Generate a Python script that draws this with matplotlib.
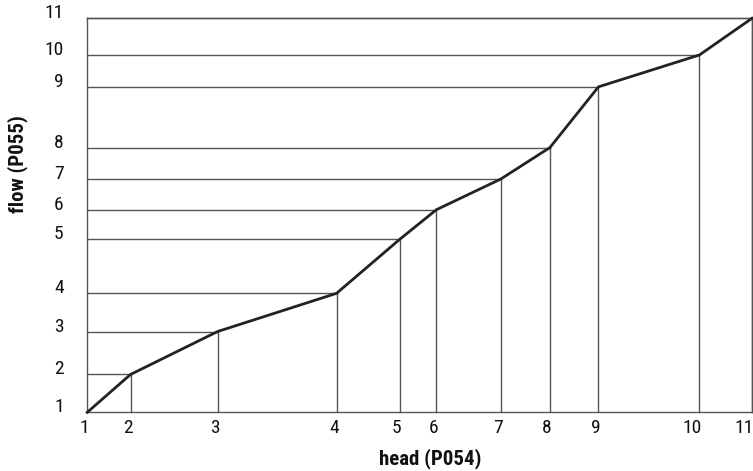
import matplotlib.pyplot as plt
import matplotlib.transforms as mtransforms
from matplotlib import font_manager

# Curve points (percent of full scale)
labels = ["1", "2", "3", "4", "5", "6", "7", "8", "9", "10", "11"]
head = [0, 6.5, 19.6, 37.5, 47.0, 52.5, 62.2, 69.6, 76.9, 92.1, 100]
flow = [0, 9.6, 20.5, 30.2, 43.9, 51.4, 59.2, 67.2, 82.6, 90.7, 100]

# pick a condensed face close to the original
names = {f.name for f in font_manager.fontManager.ttflist}
fam = "DejaVu Sans"
for cand in ["Roboto Condensed", "Barlow Condensed", "Archivo Narrow"]:
    if cand in names:
        fam = cand
        break
plt.rcParams["font.family"] = [fam, "DejaVu Sans"]

fig = plt.figure(figsize=(7.53, 4.71), dpi=100)
W, H = 753, 471
ax = fig.add_axes([87.3 / W, (H - 412.3) / H, (752 - 87.3) / W, 394 / H])
ax.set_xlim(0, 100)
ax.set_ylim(0, 100)

grid_c = "#555555"
for x, y in zip(head[1:], flow[1:]):
    ax.plot([0, x], [y, y], color=grid_c, lw=1.0, zorder=1, clip_on=False)
    ax.plot([x, x], [0, y], color=grid_c, lw=1.0, zorder=1, clip_on=False)

ax.plot(head, flow, color="#222222", lw=2.0, zorder=3, clip_on=False,
        solid_joinstyle="miter")

for s in ax.spines.values():
    s.set_color(grid_c)
    s.set_linewidth(1.0)

ax.set_xticks(head)
ax.set_xticklabels(labels)
ax.set_yticks(flow)
ax.set_yticklabels(labels)
ax.tick_params(length=0, labelsize=14, colors="#111111")
ax.tick_params(axis="x", pad=5)
ax.tick_params(axis="y", pad=17)

off = mtransforms.ScaledTranslation(0.02, 0, fig.dpi_scale_trans)
for t in ax.get_xticklabels():
    t.set_horizontalalignment("right")
    t.set_transform(t.get_transform() + off)
for t in ax.get_yticklabels():
    t.set_verticalalignment("baseline")

fig.text(430 / W, 1 - 459 / H, "head (P054)", fontsize=15, fontweight="bold",
         ha="center", va="center", color="#111111")
fig.text(18 / W, 1 - 164 / H, "flow (P055)", fontsize=15, fontweight="bold",
         ha="center", va="center", rotation=90, color="#111111")

fig.savefig("out.png", dpi=100)
